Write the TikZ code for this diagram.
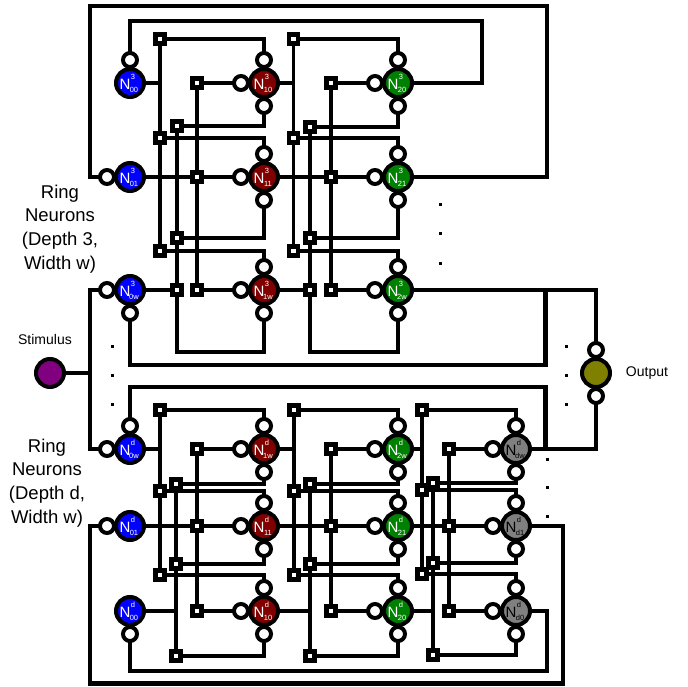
\documentclass[tikz,border=0pt]{standalone}
\usepackage{fontspec}
\setmainfont{Liberation Sans}
\pgfdeclarelayer{wires}
\pgfsetlayers{wires,main}
\definecolor{cblue}{HTML}{0000FF}
\definecolor{cred}{HTML}{800000}
\definecolor{cgreen}{HTML}{008000}
\definecolor{cgray}{HTML}{808080}
\definecolor{cpurple}{HTML}{800080}
\definecolor{colive}{HTML}{808000}
\tikzset{
  nrn/.style={circle,draw=black,line width=4pt,minimum size=28pt,inner sep=0pt},
  pincirc/.style={circle,draw=black,fill=white,line width=4pt,minimum size=14pt,inner sep=0pt},
  sqbox/.style={rectangle,draw=black,fill=white,line width=4.6pt,minimum size=9.2pt,inner sep=0pt},
  dotbox/.style={rectangle,fill=black,minimum size=3pt,inner sep=0pt},
  ntext/.style={inner sep=0pt,font=\fontsize{15}{15}\selectfont},
  stext/.style={inner sep=0pt,font=\fontsize{7.5}{7.5}\selectfont},
  biglabel/.style={inner sep=0pt,align=center,font=\fontsize{18.5}{23.7}\selectfont},
  smalllabel/.style={inner sep=0pt,font=\fontsize{14}{14}\selectfont},
  wire/.style={line width=3.8pt,line join=miter},
  longwire/.style={line width=4.3pt,line join=miter}
}
\newcommand\nrn[7]{%
  \node[nrn,fill=#4] (#1) at (#2,#3) {};
  \node[ntext,text=#7] (#1-N) at ([xshift=-5pt,yshift=-1pt]#1.center) {N};
  \node[stext,text=#7] (#1-p) at ([xshift=3pt,yshift=6pt]#1.center) {#5};
  \node[stext,text=#7] (#1-q) at ([xshift=4pt,yshift=-7pt]#1.center) {#6};
}
\begin{document}
\begin{tikzpicture}[x=1pt,y=-1pt]
\useasboundingbox (0,0) rectangle (688,687);
% neurons
\foreach \n/\x/\y/\c/\s/\b/\t in {
 T00/130/83/cblue/3/00/white, T10/264/83/cred/3/10/white, T20/398/83/cgreen/3/20/white,
 T01/130/177/cblue/3/01/white, T11/264/177/cred/3/11/white, T21/398/177/cgreen/3/21/white,
 T0w/130/290/cblue/3/0w/white, T1w/264/290/cred/3/1w/white, T2w/398/290/cgreen/3/2w/white,
 B0w/130/449/cblue/d/0w/white, B1w/264/449/cred/d/1w/white, B2w/398/449/cgreen/d/2w/white, Bdw/516/449/cgray/d/dw/black,
 B01/130/526/cblue/d/01/white, B11/264/526/cred/d/11/white, B21/398/526/cgreen/d/21/white, Bd1/516/526/cgray/d/d1/black,
 B00/130/611/cblue/d/00/white, B10/264/611/cred/d/10/white, B20/398/611/cgreen/d/20/white, Bd0/516/611/cgray/d/d0/black}
 {\nrn{\n}{\x}{\y}{\c}{\s}{\b}{\t}}
\node[nrn,fill=cpurple] (Stim) at (50,373) {};
\node[nrn,fill=colive] (Out) at (596,373) {};
% pins
\foreach \n in {T00,T10,T20,T11,T21,T1w,T2w,B0w,B1w,B2w,Bdw,B11,B21,Bd1,B10,B20,Bd0,Out}
  \node[pincirc] (\n-t) at ([yshift=23pt]\n.center) {};
\foreach \n in {T10,T20,T11,T21,T0w,T1w,T2w,B1w,B2w,Bdw,B11,B21,Bd1,B00,B10,B20,Bd0,Out}
  \node[pincirc] (\n-b) at ([yshift=-23pt]\n.center) {};
\foreach \n in {T10,T20,T01,T11,T21,T0w,T1w,T2w,B0w,B1w,B2w,Bdw,B01,B11,B21,Bd1,B10,B20,Bd0}
  \node[pincirc] (\n-l) at ([xshift=-23pt]\n.center) {};
% junction squares
\foreach \n/\x/\y in {
 Ta1/160/39, Ta2/160/138, Ta3/160/251,
 Tb1/177/126, Tb2/177/238, Tb3/177/290,
 Tc1/197/83, Tc2/197/177, Tc3/197/290,
 Td1/293.5/39, Td2/293.5/138, Td3/293.5/251,
 Te1/310/127, Te2/310/238, Te3/310/290,
 Tf1/331/83, Tf2/331/177, Tf3/331/290,
 Ba1/160/410, Ba2/160/491, Ba3/160/575,
 Bb1/176/484, Bb2/176/564, Bb3/176/656,
 Bc1/197/449, Bc2/197/526, Bc3/197/611,
 Bd1s/294/410, Bd2s/294/491, Bd3s/294/575,
 Be1/310/484, Be2/310/564, Be3/310/656,
 Bf1/331/449, Bf2/331/526, Bf3/331/611,
 Bg1/422/410, Bg2/422/490, Bg3/422/574,
 Bh1/433/483, Bh2/433/563, Bh3/433/655,
 Bi1/449/449, Bi2/449/526, Bi3/449/611}
 \node[sqbox] (\n) at (\x,\y) {};
% corner points
\coordinate (fA) at (90,6);
\coordinate (fB) at (547,6);
\coordinate (gB) at (482,21);
\coordinate (Tb4) at (177,352);
\coordinate (Te4) at (310,352);
\coordinate (hB) at (545.5,365);
\coordinate (hC) at (545.5,387);
\coordinate (jS) at (90,373);
\coordinate (jT) at (90,290);
\coordinate (jB) at (90,449);
\coordinate (kA) at (90,683.5);
\coordinate (kB) at (563,683.5);
\coordinate (mB) at (547,671);
% wires
\begin{pgfonlayer}{wires}
\begin{scope}[longwire]
\draw (Stim.center) -- (jS);
\draw (T0w-l.center) -- (jT) -- (jB) -- (B0w-l.center);
\draw (T01-l.center) -| (fA) -- (fB) |- (T21.center);
\draw (T00-t.center) |- (gB) |- (T20.center);
\draw (T0w-b.center) |- (hB) |- (T2w.center) -| (Out-t.center);
\draw (Out-b.center) |- (Bdw.center) -| (hC) -| (B0w-t.center);
\draw (B01-l.center) -| (kA) -- (kB) |- (Bd1.center);
\draw (B00-b.center) |- (mB) |- (Bd0.center);
\end{scope}
\begin{scope}[wire]
% top block, first stage
\draw (Ta1.center) -- (Ta3.center);
\draw (Ta1.center) -| (T10-t.center);
\draw (Ta2.center) -| (T11-t.center);
\draw (Ta3.center) -| (T1w-t.center);
\draw (T00.center) -- (T00.center -| Ta1.center);
\draw (Tb1.center) -- (Tb4) -| (T1w-b.center);
\draw (Tb1.center) -| (T10-b.center);
\draw (Tb2.center) -| (T11-b.center);
\draw (T0w.center) -- (Tb3.center);
\draw (Tc1.center) -- (Tc3.center);
\draw (Tc1.center) -- (T10-l.center);
\draw (T01.center) -- (T11-l.center);
\draw (Tc3.center) -- (T1w-l.center);
% top block, second stage
\draw (Td1.center) -- (Td3.center);
\draw (Td1.center) -| (T20-t.center);
\draw (Td2.center) -| (T21-t.center);
\draw (Td3.center) -| (T2w-t.center);
\draw (T10.center) -- (T10.center -| Td1.center);
\draw (Te1.center) -- (Te4) -| (T2w-b.center);
\draw (Te1.center) -| (T20-b.center);
\draw (Te2.center) -| (T21-b.center);
\draw (T1w.center) -- (Te3.center);
\draw (Tf1.center) -- (Tf3.center);
\draw (Tf1.center) -- (T20-l.center);
\draw (T11.center) -- (T21-l.center);
\draw (Tf3.center) -- (T2w-l.center);
% bottom block, first stage
\draw (Ba1.center) -- (Ba3.center);
\draw (Ba1.center) -| (B1w-t.center);
\draw (Ba2.center) -| (B11-t.center);
\draw (Ba3.center) -| (B10-t.center);
\draw (B0w.center) -- (B0w.center -| Ba1.center);
\draw (Bb1.center) -- (Bb3.center);
\draw (Bb1.center) -| (B1w-b.center);
\draw (Bb2.center) -| (B11-b.center);
\draw (Bb3.center) -| (B10-b.center);
\draw (B00.center) -- (B00.center -| Bb1.center);
\draw (Bc1.center) -- (Bc3.center);
\draw (Bc1.center) -- (B1w-l.center);
\draw (B01.center) -- (B11-l.center);
\draw (Bc3.center) -- (B10-l.center);
% bottom block, second stage
\draw (Bd1s.center) -- (Bd3s.center);
\draw (Bd1s.center) -| (B2w-t.center);
\draw (Bd2s.center) -| (B21-t.center);
\draw (Bd3s.center) -| (B20-t.center);
\draw (B1w.center) -- (B1w.center -| Bd1s.center);
\draw (Be1.center) -- (Be3.center);
\draw (Be1.center) -| (B2w-b.center);
\draw (Be2.center) -| (B21-b.center);
\draw (Be3.center) -| (B20-b.center);
\draw (B10.center) -- (B10.center -| Be1.center);
\draw (Bf1.center) -- (Bf3.center);
\draw (Bf1.center) -- (B2w-l.center);
\draw (B11.center) -- (B21-l.center);
\draw (Bf3.center) -- (B20-l.center);
% bottom block, third stage
\draw (Bg1.center) -- (Bg3.center);
\draw (Bg1.center) -| (Bdw-t.center);
\draw (Bg2.center) -| (Bd1-t.center);
\draw (Bg3.center) -| (Bd0-t.center);
\draw (B2w.center) -- (B2w.center -| Bg1.center);
\draw (Bh1.center) -- (Bh3.center);
\draw (Bh1.center) -| (Bdw-b.center);
\draw (Bh2.center) -| (Bd1-b.center);
\draw (Bh3.center) -| (Bd0-b.center);
\draw (B20.center) -- (B20.center -| Bh1.center);
\draw (Bi1.center) -- (Bi3.center);
\draw (Bi1.center) -- (Bdw-l.center);
\draw (B21.center) -- (Bd1-l.center);
\draw (Bi3.center) -- (Bd0-l.center);
\end{scope}
\end{pgfonlayer}
% ellipsis dots
\foreach \n/\x/\y in {
 da/440/205, db/440/234, dc/440/263,
 dd/112/346, de/112/375, df/112/404,
 dg/566/346, dh/566/375, di/566/404,
 dj/547/459, dk/547/487, dl/547/516}
 \node[dotbox] (\n) at (\x,\y) {};
% labels
\node[biglabel] (lblT) at (60,229) {Ring\\Neurons\\(Depth 3,\\Width w)};
\node[biglabel] (lblB) at (47,483) {Ring\\Neurons\\(Depth d,\\Width w)};
\node[smalllabel] (lblS) at (45,339) {Stimulus};
\node[smalllabel] (lblO) at (647,373) {Output};
\end{tikzpicture}
\end{document}
